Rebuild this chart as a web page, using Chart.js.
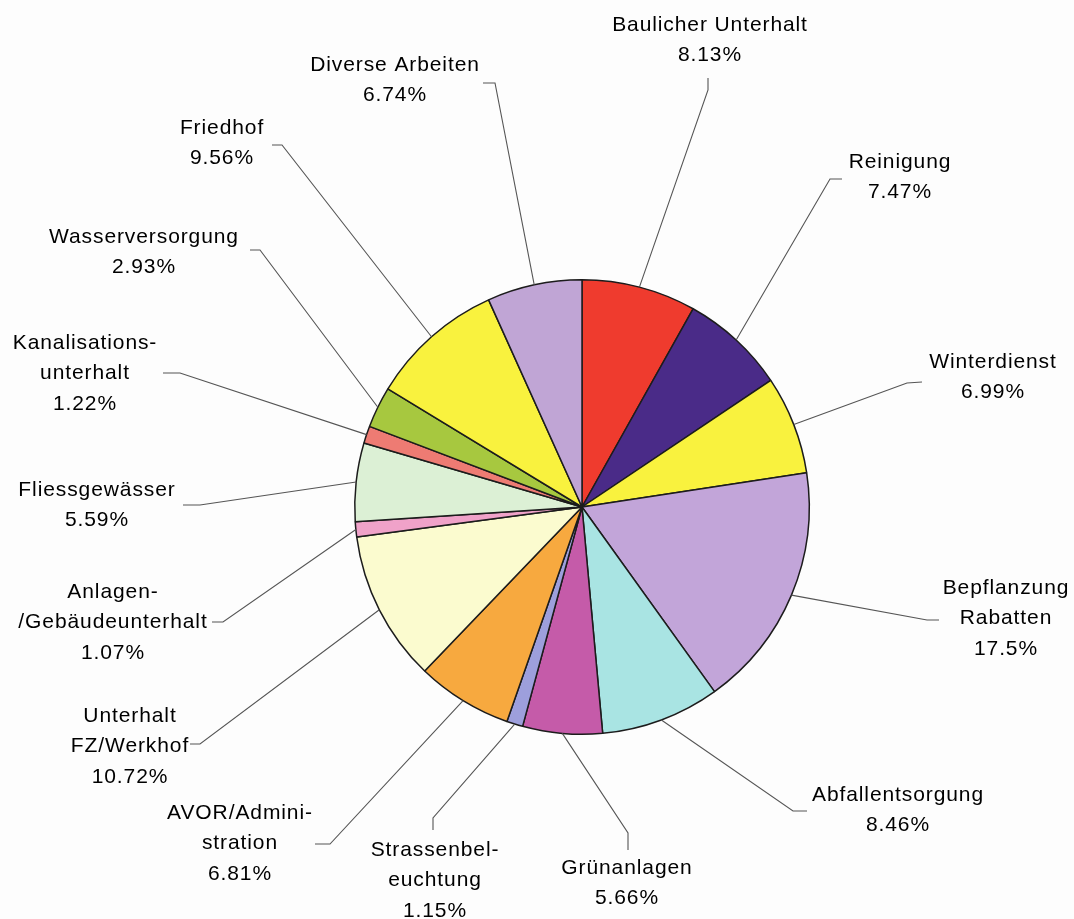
<!DOCTYPE html>
<html>
<head>
<meta charset="utf-8">
<title>Aufwand nach Bereichen</title>
<script src="https://cdn.jsdelivr.net/npm/chart.js@4.4.1/dist/chart.umd.min.js"></script>
<style>
  html, body { margin: 0; padding: 0; background: #fdfdfd; }
  canvas { display: block; }
</style>
</head>
<body>
<canvas id="work-chart" width="1074" height="919"></canvas>
<script>
// categories, clockwise from 12 o'clock ("\n" = line break in the label)
const categories = [
  "Baulicher Unterhalt",
  "Reinigung",
  "Winterdienst",
  "Bepflanzung\nRabatten",
  "Abfallentsorgung",
  "Grünanlagen",
  "Strassenbel-\neuchtung",
  "AVOR/Admini-\nstration",
  "Unterhalt\nFZ/Werkhof",
  "Anlagen-\n/Gebäudeunterhalt",
  "Fliessgewässer",
  "Kanalisations-\nunterhalt",
  "Wasserversorgung",
  "Friedhof",
  "Diverse Arbeiten"
];

// share of total work in percent
const shares = [8.13, 7.47, 6.99, 17.5, 8.46, 5.66, 1.15, 6.81, 10.72, 1.07, 5.59, 1.22, 2.93, 9.56, 6.74];

const sliceColors = [
  "#ef3b2e", "#4a2b88", "#f9f23e", "#c2a5d9", "#a9e4e3",
  "#c55ba9", "#9d9fdc", "#f7a93f", "#fbfbcf", "#f0a2c9",
  "#dcf0d5", "#ee7b73", "#a7c83f", "#f9f23e", "#c0a5d5"
];

// label placement relative to the pie centre: text anchor, leader bend, leader end
const labelPos = [
  [128, -482], [318, -345], [411, -145], [424, 81], [316, 288],
  [45, 361], [-147, 343], [-342, 306], [-452, 209], [-469, 85],
  [-485, -17], [-497, -164], [-438, -270], [-360, -379], [-187, -442]
];
const leaderBend = [
  [126, -417], [248, -328], [325, -124], [345, 113], [211, 304],
  [46, 326], [-149, 311], [-252, 337], [-382, 237], [-359, 115],
  [-382, -2], [-402, -134], [-322, -257], [-300, -362], [-87, -424]
];
const leaderEnd = [
  [126, -429], [260, -328], [340, -125], [357, 113], [225, 304],
  [46, 343], [-149, 323], [-267, 337], [-392, 237], [-370, 115],
  [-399, -2], [-419, -134], [-332, -257], [-310, -362], [-99, -424]
];

const LINE_HEIGHT = 30.5;

const leaderLabels = {
  id: "leaderLabels",
  afterDatasetsDraw(chart) {
    const ctx = chart.ctx;
    const arcs = chart.getDatasetMeta(0).data;
    ctx.save();
    arcs.forEach((arc, i) => {
      const p = arc.getProps(["x", "y", "startAngle", "endAngle", "outerRadius"], true);
      const mid = (p.startAngle + p.endAngle) / 2;
      const sx = p.x + Math.cos(mid) * p.outerRadius;
      const sy = p.y + Math.sin(mid) * p.outerRadius;

      ctx.strokeStyle = "#555";
      ctx.lineWidth = 1.1;
      ctx.beginPath();
      ctx.moveTo(sx, sy);
      ctx.lineTo(p.x + leaderBend[i][0], p.y + leaderBend[i][1]);
      ctx.lineTo(p.x + leaderEnd[i][0], p.y + leaderEnd[i][1]);
      ctx.stroke();

      const lines = categories[i].split("\n").concat(String(shares[i]) + "%");
      ctx.fillStyle = "#000";
      ctx.font = "21px 'Liberation Sans', Arial, sans-serif";
      ctx.letterSpacing = "0.9px";
      ctx.textAlign = "center";
      ctx.textBaseline = "middle";
      lines.forEach((line, k) => {
        ctx.fillText(line, p.x + labelPos[i][0], p.y + labelPos[i][1] + k * LINE_HEIGHT);
      });
    });
    ctx.restore();
  }
};

new Chart(document.getElementById("work-chart"), {
  type: "pie",
  data: {
    labels: categories,
    datasets: [{
      data: shares,
      backgroundColor: sliceColors,
      borderColor: "#1c1c1c",
      borderWidth: 1.5
    }]
  },
  options: {
    responsive: false,
    animation: false,
    layout: {
      padding: { left: 354, right: 264, top: 279, bottom: 184 }
    },
    plugins: {
      legend: { display: false },
      tooltip: { enabled: false }
    }
  },
  plugins: [leaderLabels]
});
</script>
</body>
</html>
